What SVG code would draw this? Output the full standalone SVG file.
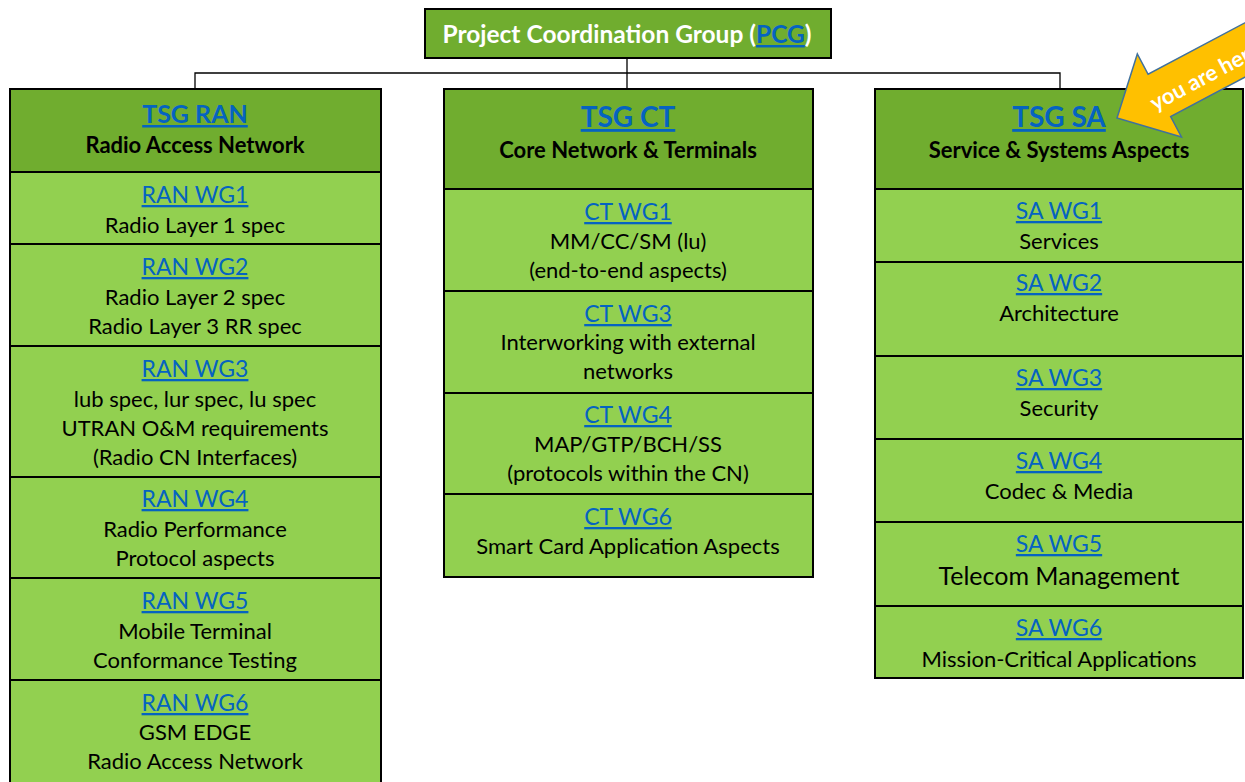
<svg xmlns="http://www.w3.org/2000/svg" width="1245" height="782" viewBox="0 0 1245 782">
<style>
.hdr{fill:#70ad2f;stroke:#000;stroke-width:2}
.row{fill:#92d050;stroke:#000;stroke-width:2}
text{font-family:Lato,"Open Sans","Liberation Sans",sans-serif;text-anchor:middle;fill:#000}
.lnk{fill:#0563c1;text-decoration:underline}
.wg{font-size:23px}
.d{font-size:22px}
.sub{font-size:22px;font-weight:bold}
.tsg{font-weight:bold}
.conn{stroke:#000;stroke-width:1.3;fill:none}
</style>
<rect width="1245" height="782" fill="#fff"/>
<g id="connectors">
<path class="conn" d="M627,58V73M195,89V73H1060V89M627,73V89"/>
</g>
<g id="pcg">
<rect class="hdr" x="425" y="9" width="406" height="49"/>
<text x="627" y="43" style="font-size:24.5px;font-weight:bold;fill:#fff">Project Coordination Group (<tspan class="lnk">PCG</tspan>)</text>
</g>
<g id="tsg-ran">
<rect class="hdr" x="10" y="89" width="371" height="83"/>
<text class="lnk tsg" x="195" y="123" style="font-size:25px">TSG RAN</text>
<text class="sub" x="195" y="153">Radio Access Network</text>
</g>
<g id="ran-wg1">
<rect class="row" x="10" y="172" width="371" height="72"/>
<text class="lnk wg" x="195" y="203">RAN WG1</text>
<text class="d" x="195" y="233">Radio Layer 1 spec</text>
</g>
<g id="ran-wg2">
<rect class="row" x="10" y="244" width="371" height="102"/>
<text class="lnk wg" x="195" y="275">RAN WG2</text>
<text class="d" x="195" y="305">Radio Layer 2 spec</text>
<text class="d" x="195" y="334">Radio Layer 3 RR spec</text>
</g>
<g id="ran-wg3">
<rect class="row" x="10" y="346" width="371" height="131"/>
<text class="lnk wg" x="195" y="377">RAN WG3</text>
<text class="d" x="195" y="407">lub spec, lur spec, lu spec</text>
<text class="d" x="195" y="436">UTRAN O&amp;M requirements</text>
<text class="d" x="195" y="465">(Radio CN Interfaces)</text>
</g>
<g id="ran-wg4">
<rect class="row" x="10" y="477" width="371" height="101"/>
<text class="lnk wg" x="195" y="507">RAN WG4</text>
<text class="d" x="195" y="537">Radio Performance</text>
<text class="d" x="195" y="566">Protocol aspects</text>
</g>
<g id="ran-wg5">
<rect class="row" x="10" y="578" width="371" height="102"/>
<text class="lnk wg" x="195" y="609">RAN WG5</text>
<text class="d" x="195" y="639">Mobile Terminal</text>
<text class="d" x="195" y="668">Conformance Testing</text>
</g>
<g id="ran-wg6">
<rect class="row" x="10" y="680" width="371" height="110"/>
<text class="lnk wg" x="195" y="711">RAN WG6</text>
<text class="d" x="195" y="740">GSM EDGE</text>
<text class="d" x="195" y="769">Radio Access Network</text>
</g>
<g id="tsg-ct">
<rect class="hdr" x="444" y="89" width="369" height="100"/>
<text class="lnk tsg" x="628" y="127" style="font-size:28px">TSG CT</text>
<text class="sub" x="628" y="158">Core Network &amp; Terminals</text>
</g>
<g id="ct-wg1">
<rect class="row" x="444" y="189" width="369" height="102"/>
<text class="lnk wg" x="628" y="220">CT WG1</text>
<text class="d" x="628" y="249">MM/CC/SM (lu)</text>
<text class="d" x="628" y="278">(end-to-end aspects)</text>
</g>
<g id="ct-wg3">
<rect class="row" x="444" y="291" width="369" height="102"/>
<text class="lnk wg" x="628" y="322">CT WG3</text>
<text class="d" x="628" y="350">Interworking with external</text>
<text class="d" x="628" y="379">networks</text>
</g>
<g id="ct-wg4">
<rect class="row" x="444" y="393" width="369" height="101"/>
<text class="lnk wg" x="628" y="423">CT WG4</text>
<text class="d" x="628" y="452">MAP/GTP/BCH/SS</text>
<text class="d" x="628" y="481">(protocols within the CN)</text>
</g>
<g id="ct-wg6">
<rect class="row" x="444" y="494" width="369" height="83"/>
<text class="lnk wg" x="628" y="525">CT WG6</text>
<text class="d" x="628" y="554">Smart Card Application Aspects</text>
</g>
<g id="tsg-sa">
<rect class="hdr" x="875" y="89" width="368" height="100"/>
<text class="lnk tsg" x="1059" y="127" style="font-size:28px">TSG SA</text>
<text class="sub" x="1059" y="158">Service &amp; Systems Aspects</text>
</g>
<g id="sa-wg1">
<rect class="row" x="875" y="189" width="368" height="73"/>
<text class="lnk wg" x="1059" y="219">SA WG1</text>
<text class="d" x="1059" y="249">Services</text>
</g>
<g id="sa-wg2">
<rect class="row" x="875" y="262" width="368" height="94"/>
<text class="lnk wg" x="1059" y="291">SA WG2</text>
<text class="d" x="1059" y="321">Architecture</text>
</g>
<g id="sa-wg3">
<rect class="row" x="875" y="356" width="368" height="83"/>
<text class="lnk wg" x="1059" y="386">SA WG3</text>
<text class="d" x="1059" y="416">Security</text>
</g>
<g id="sa-wg4">
<rect class="row" x="875" y="439" width="368" height="83"/>
<text class="lnk wg" x="1059" y="469">SA WG4</text>
<text class="d" x="1059" y="499">Codec &amp; Media</text>
</g>
<g id="sa-wg5">
<rect class="row" x="875" y="522" width="368" height="84"/>
<text class="lnk wg" x="1059" y="552">SA WG5</text>
<text x="1059" y="585" style="font-size:25px">Telecom Management</text>
</g>
<g id="sa-wg6">
<rect class="row" x="875" y="606" width="368" height="72"/>
<text class="lnk wg" x="1059" y="636">SA WG6</text>
<text class="d" x="1059" y="667">Mission-Critical Applications</text>
</g>
<g id="you-are-here" transform="translate(1117,118) rotate(-28)">
<polygon points="0,0 48,-47 48,-24 260,-24 260,24 48,24 48,47" fill="#ffc000" stroke="#41719c" stroke-width="1.5"/>
<text x="37" y="12" style="font-size:22px;font-weight:bold;fill:#fff;text-anchor:start">you are here</text>
</g>
</svg>
